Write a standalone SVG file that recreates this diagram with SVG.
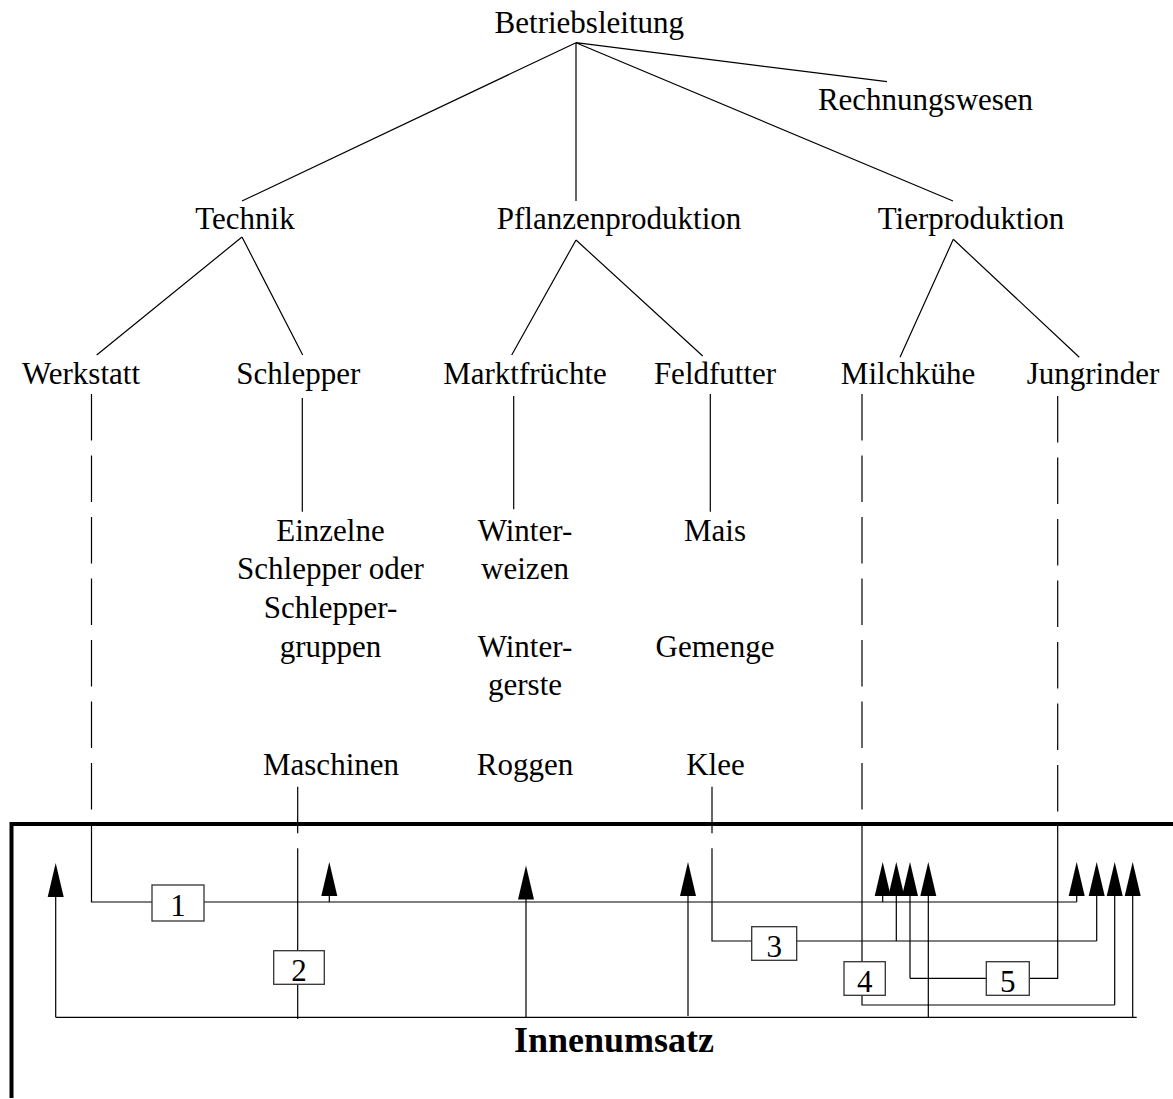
<svg xmlns="http://www.w3.org/2000/svg" xmlns:xlink="http://www.w3.org/1999/xlink" width="1173" height="1099" viewBox="0 0 1173 1099">
<style>
text{font-family:"Liberation Serif","Times New Roman",serif;font-size:31px;fill:#000;text-anchor:middle}
.b{font-weight:bold;font-size:36px}
.ln{stroke:#000;stroke-width:1.2;fill:none}
.ds{stroke:#000;stroke-width:1.2;fill:none;stroke-dasharray:46.5 15}
.box{fill:#fff;stroke:#333;stroke-width:1.3}
.frame{stroke:#000;stroke-width:4;fill:none}
</style>
<defs>
<path id="ah" d="M0,0 L8,34 L-8,34 Z" fill="#000"/>
</defs>
<rect width="1173" height="1099" fill="#fff"/>
<path class="frame" d="M11.5,1098 V824 H1173"/>
<g id="connectors">
<path class="ln" d="M576,42.7 L242,201 M576,42.7 V201 M576,42.7 L953,201 M576,42.7 L887,81.7"/>
<path class="ln" d="M242,237 L96.7,355 M242,237 L302.7,355"/>
<path class="ln" d="M576,240 L511.7,355 M576,240 L702.7,356"/>
<path class="ln" d="M953.3,239.3 L900,357.3 M953.3,239.3 L1079.3,357.3"/>
<path class="ln" d="M302.3,398 V511.7 M513.7,396 V509.3 M710.3,394 V511.7"/>
<path class="ds" d="M91.5,394 V824 M862,394 V824 M1057.7,396 V826"/>
<path class="ln" d="M91.5,824 V902 H152 M204,902 H1076.7"/>
<path class="ln" d="M297.7,786.7 V833.3 M297.7,848.3 V950.7 M297.7,984.3 V1019"/>
<path class="ln" d="M712,786.7 V833.3 M712,848.3 V941 H751.7 M796.7,941 H1096.7"/>
<path class="ln" d="M862,824 V961.7 M862,995.3 V1005 H1114.7"/>
<path class="ln" d="M1057.7,826 V978.3 H1029.3 M986.3,978.3 H910"/>
<path class="ln" d="M55.7,1017.3 H1136.7"/>
<path class="ln" d="M55.7,897 V1017.3 M329.3,896 V902 M526,899 V1017.3 M688,896 V1016"/>
<path class="ln" d="M882.7,896 V902 M896.3,896 V941 M910,896 V978.3 M928.3,896 V1017.3"/>
<path class="ln" d="M1076.7,896 V902 M1096.7,896 V941 M1114.7,896 V1005 M1132.7,896 V1017.3"/>
<use xlink:href="#ah" href="#ah" transform="translate(55.7,863)"/>
<use xlink:href="#ah" href="#ah" transform="translate(329.3,862)"/>
<use xlink:href="#ah" href="#ah" transform="translate(526,865.5)"/>
<use xlink:href="#ah" href="#ah" transform="translate(688,862)"/>
<use xlink:href="#ah" href="#ah" transform="translate(882.7,862)"/>
<use xlink:href="#ah" href="#ah" transform="translate(896.3,862)"/>
<use xlink:href="#ah" href="#ah" transform="translate(910,862)"/>
<use xlink:href="#ah" href="#ah" transform="translate(928.3,862)"/>
<use xlink:href="#ah" href="#ah" transform="translate(1076.7,862)"/>
<use xlink:href="#ah" href="#ah" transform="translate(1096.7,862)"/>
<use xlink:href="#ah" href="#ah" transform="translate(1114.7,862)"/>
<use xlink:href="#ah" href="#ah" transform="translate(1132.7,862)"/>
</g>
<g id="n-betriebsleitung"><text x="589.3" y="33">Betriebsleitung</text></g>
<g id="n-rechnungswesen"><text x="925.5" y="110">Rechnungswesen</text></g>
<g id="n-technik"><text x="245" y="229">Technik</text></g>
<g id="n-pflanzenproduktion"><text x="619" y="229">Pflanzenproduktion</text></g>
<g id="n-tierproduktion"><text x="971" y="229">Tierproduktion</text></g>
<g id="n-werkstatt"><text x="81" y="384">Werkstatt</text></g>
<g id="n-schlepper"><text x="298.3" y="384">Schlepper</text></g>
<g id="n-marktfruechte"><text x="525" y="384">Marktfrüchte</text></g>
<g id="n-feldfutter"><text x="715" y="384">Feldfutter</text></g>
<g id="n-milchkuehe"><text x="908" y="384">Milchkühe</text></g>
<g id="n-jungrinder"><text x="1093" y="384">Jungrinder</text></g>
<g id="n-einzelne"><text x="330.5" y="540.7">Einzelne</text><text x="330.5" y="579.3">Schlepper oder</text><text x="330.5" y="618">Schlepper-</text><text x="330.5" y="656.5">gruppen</text></g>
<g id="n-winterweizen"><text x="525" y="540.7">Winter-</text><text x="525" y="579.3">weizen</text></g>
<g id="n-wintergerste"><text x="525" y="656.7">Winter-</text><text x="525" y="695">gerste</text></g>
<g id="n-mais"><text x="715" y="540.7">Mais</text></g>
<g id="n-gemenge"><text x="715" y="656.7">Gemenge</text></g>
<g id="n-maschinen"><text x="331" y="775.3">Maschinen</text></g>
<g id="n-roggen"><text x="525" y="775.3">Roggen</text></g>
<g id="n-klee"><text x="715.5" y="775.3">Klee</text></g>
<g id="box1"><rect class="box" x="152" y="885" width="52" height="36"/><text x="178" y="916">1</text></g>
<g id="box2"><rect class="box" x="273.7" y="950.7" width="50.6" height="33.6"/><text x="299" y="980.5">2</text></g>
<g id="box3"><rect class="box" x="751.7" y="926.7" width="45" height="33.6"/><text x="774.2" y="956.5">3</text></g>
<g id="box4"><rect class="box" x="844" y="961.7" width="41.3" height="33.6"/><text x="864.7" y="991.5">4</text></g>
<g id="box5"><rect class="box" x="986.3" y="961.7" width="43" height="33.6"/><text x="1007.8" y="991.5">5</text></g>
<g id="n-innenumsatz"><text class="b" x="614" y="1052">Innenumsatz</text></g>
</svg>
